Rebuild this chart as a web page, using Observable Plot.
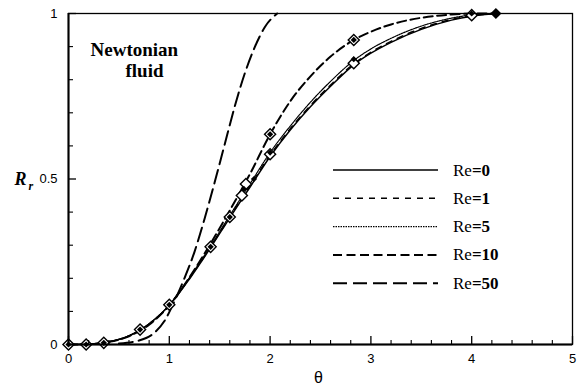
<!DOCTYPE html>
<html><head><meta charset="utf-8">
<script src="https://cdn.jsdelivr.net/npm/d3@7"></script>
<script src="https://cdn.jsdelivr.net/npm/@observablehq/plot@0.6"></script>
<style>body{margin:0;background:#fff}#chart{position:relative;width:579px;height:391px}</style>
</head><body><div id="chart"></div>
<script>
// curve abscissa (theta) for Re = 0, 1, 5, 10
const theta = [0,0.2,0.4,0.6,0.8,1.0,1.2,1.4,1.6,1.8,2.0,2.2,2.4,2.6,2.83,3.0,3.2,3.5,3.8,4.0,4.24];
const re0  = [0,0.001,0.008,0.026,0.062,0.118,0.198,0.288,0.383,0.475,0.568,0.648,0.718,0.780,0.845,0.880,0.913,0.952,0.980,0.992,1.0];
const re1  = [0,0.001,0.008,0.026,0.062,0.119,0.200,0.290,0.386,0.479,0.572,0.652,0.722,0.784,0.848,0.883,0.916,0.955,0.982,0.993,1.0];
const re5  = [0,0.001,0.008,0.026,0.063,0.120,0.202,0.293,0.390,0.485,0.580,0.660,0.732,0.795,0.858,0.893,0.925,0.962,0.986,0.996,1.0];
const re10 = [0,0.001,0.008,0.025,0.060,0.118,0.203,0.300,0.405,0.515,0.635,0.735,0.810,0.870,0.920,0.945,0.967,0.987,0.997,1.0,1.0];
// Re = 50 has its own abscissa
const theta50 = [0.5,0.7,0.85,0.95,1.05,1.15,1.25,1.35,1.45,1.55,1.65,1.75,1.85,1.95,2.07];
const re50    = [0.003,0.012,0.035,0.07,0.13,0.2,0.28,0.38,0.49,0.605,0.72,0.82,0.9,0.96,1.0];

// markers: open diamonds
const openTheta = [0,0.175,0.35,0.71,1.0,1.41,1.6,1.72,1.76,2.0,2.0,2.83,2.83,4.0];
const openR     = [0,0,0.005,0.045,0.12,0.295,0.385,0.45,0.485,0.575,0.635,0.85,0.92,0.995];
// markers: filled diamonds
const fillTheta = [0,0.175,0.35,0.71,1.0,1.41,1.6,1.74,1.84,2.0,2.0,2.83,2.83,4.0];
const fillR     = [0,0,0.005,0.045,0.12,0.295,0.385,0.47,0.5,0.58,0.635,0.862,0.92,1.0];
const bigTheta = [4.24];
const bigR     = [1.0];

const xMajor = [0,1,2,3,4,5];
const xLabels = ["0","1","2","3","4","5"];
const xMinor = [0.2,0.4,0.6,0.8,1.2,1.4,1.6,1.8,2.2,2.4,2.6,2.8,3.2,3.4,3.6,3.8,4.2,4.4,4.6,4.8];
const yMajor = [0,0.5,1];
const yLabels = ["0","0.5","1"];
const yMinor = [0.1,0.2,0.3,0.4,0.6,0.7,0.8,0.9];

const legendNames = ["0","1","5","10","50"];

const SERIF = "'Liberation Serif', 'Times New Roman', serif";

const styles = {
  "0":  {dash: null,      w: 1.5},
  "1":  {dash: "6,6",     w: 1.5},
  "5":  {dash: "1.5,1",   w: 1.2},
  "10": {dash: "9,4.5",   w: 2},
  "50": {dash: "14,6",    w: 2}
};

const seriesRaw = [
  {re: "0", x: theta, y: re0},
  {re: "1", x: theta, y: re1},
  {re: "5", x: theta, y: re5},
  {re: "10", x: theta, y: re10},
  {re: "50", x: theta50, y: re50}
];
const toPts = (xs, ys) => xs.map((t, i) => ({t, r: ys[i]}));

const marks = [];
for (const s of seriesRaw) {
  const st = styles[s.re];
  marks.push(Plot.line(toPts(s.x, s.y), {x: "t", y: "r", curve: "monotone-x", stroke: "black",
    strokeWidth: st.w, strokeDasharray: st.dash}));
}
marks.push(
  Plot.dot(toPts(openTheta, openR), {x: "t", y: "r", symbol: "diamond2", r: 5, stroke: "black", strokeWidth: 1.4, fill: "white"}),
  Plot.dot(toPts(fillTheta, fillR), {x: "t", y: "r", symbol: "diamond2", r: 2.8, fill: "black"}),
  Plot.dot(toPts(bigTheta, bigR), {x: "t", y: "r", symbol: "diamond2", r: 5, fill: "black"}),
  Plot.frame({stroke: "black", strokeWidth: 1.3}),
  Plot.ruleX([0], {strokeWidth: 2}),
  Plot.ruleY([0], {strokeWidth: 2}),
  Plot.axisX({ticks: xMajor, tickSize: 8, dy: -8, tickFormat: () => "", label: null, strokeWidth: 1.3}),
  Plot.axisX({ticks: xMinor, tickSize: 4, dy: -4, tickFormat: () => "", label: null, strokeWidth: 1.1}),
  Plot.axisX({ticks: xMajor, tickSize: 0, tickPadding: 9, label: null, fontSize: 13,
    tickFormat: d => xLabels[xMajor.indexOf(d)]}),
  Plot.axisY({ticks: yMajor, tickSize: 8, dx: 8, tickFormat: () => "", label: null, strokeWidth: 1.3}),
  Plot.axisY({ticks: yMinor, tickSize: 5, dx: 5, tickFormat: () => "", label: null, strokeWidth: 1.1}),
  Plot.axisY({ticks: yMajor, tickSize: 0, tickPadding: 11, label: null, fontSize: 13,
    tickFormat: d => yLabels[yMajor.indexOf(d)]}),
  Plot.text(["Newtonian"], {text: d => d, frameAnchor: "top-left", dx: 22, dy: 29, textAnchor: "start",
    fontFamily: SERIF, fontWeight: "bold", fontSize: 19}),
  Plot.text(["fluid"], {text: d => d, frameAnchor: "top-left", dx: 57, dy: 50, textAnchor: "start",
    fontFamily: SERIF, fontWeight: "bold", fontSize: 19}),
  Plot.text(["θ"], {text: d => d, frameAnchor: "bottom", dx: -2, dy: 38, fontSize: 16, fontFamily: "Liberation Sans"}),
  Plot.text(["R"], {text: d => d, frameAnchor: "left", dx: -54, dy: 0, textAnchor: "start",
    fontFamily: SERIF, fontWeight: "bold", fontStyle: "italic", fontSize: 18}),
  Plot.text(["r"], {text: d => d, frameAnchor: "left", dx: -40, dy: 7, textAnchor: "start",
    fontFamily: SERIF, fontWeight: "bold", fontStyle: "italic", fontSize: 12})
);

const chart = Plot.plot({
  width: 579, height: 391,
  marginLeft: 68, marginRight: 7, marginTop: 13, marginBottom: 47,
  x: {domain: [0, 5]},
  y: {domain: [0, 1]},
  style: {fontFamily: "Liberation Sans, Arial, sans-serif", fontSize: "13px", color: "black", background: "white"},
  marks
});
document.getElementById("chart").appendChild(chart);

// legend drawn inside the plot area
const svg = d3.select(chart);
const lg = svg.append("g").attr("class", "legend");
legendNames.forEach((name, i) => {
  const y = 170 + i * 28.3;
  const st = styles[name];
  lg.append("line").attr("x1", 333).attr("x2", 438).attr("y1", y).attr("y2", y)
    .attr("stroke", "black").attr("stroke-width", st.w)
    .attr("stroke-dasharray", st.dash);
  const t = lg.append("text").attr("x", 453).attr("y", y + 5.5)
    .style("text-anchor", "start")
    .style("font-family", SERIF)
    .style("font-size", "17px").style("fill", "black");
  t.append("tspan").style("font-weight", "normal").text("Re");
  t.append("tspan").style("font-weight", "bold").text("=" + name);
});
</script>
</body></html>
